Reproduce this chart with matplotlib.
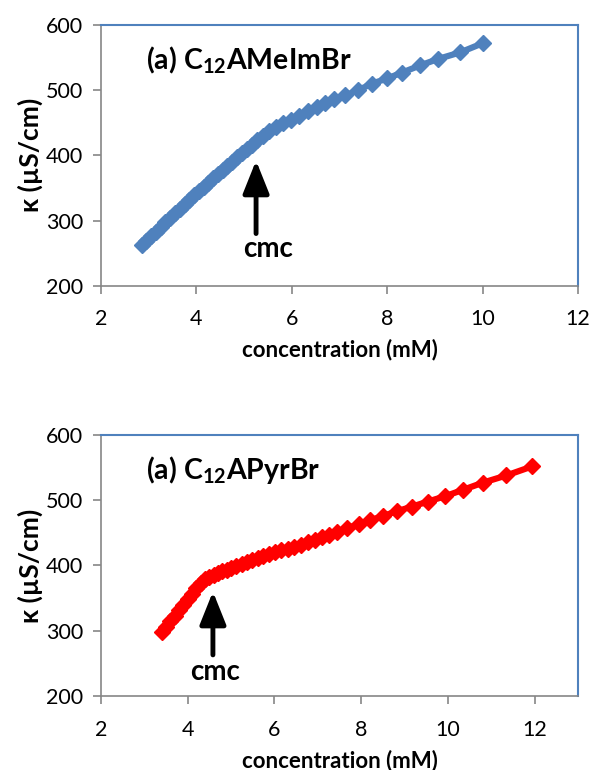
import matplotlib
matplotlib.use('Agg')
import matplotlib.pyplot as plt

plt.rcParams['font.family'] = ['Lato', 'DejaVu Sans']
plt.rcParams['mathtext.fontset'] = 'custom'
plt.rcParams['mathtext.rm'] = 'Lato'
plt.rcParams['mathtext.bf'] = 'Lato:bold'

# C12AMeImBr
conc_a = [2.85, 2.95, 3.05, 3.15, 3.25, 3.35, 3.45, 3.55, 3.65, 3.75, 3.85, 3.95,
          4.05, 4.15, 4.25, 4.35, 4.45, 4.55, 4.65, 4.75, 4.85, 4.95, 5.06, 5.17,
          5.28, 5.40, 5.53, 5.67, 5.82, 5.98, 6.15, 6.33, 6.52, 6.70, 6.88, 7.12,
          7.39, 7.68, 8.00, 8.31, 8.69, 9.07, 9.53, 10.0]
kappa_a = [262, 269, 276, 283, 290, 297, 304, 311, 318, 325, 332, 339,
           345, 352, 358, 365, 371, 378, 384, 390, 397, 403, 410, 416,
           423, 430, 437, 443, 449, 455, 461, 468, 474, 480, 486, 492,
           500, 510, 518, 527, 538, 548, 558, 572]

# C12APyrBr
conc_b = [3.4, 3.5, 3.6, 3.7, 3.8, 3.9, 4.0, 4.1, 4.2, 4.3, 4.4, 4.5, 4.6, 4.7,
          4.8, 4.9, 5.0, 5.12, 5.24, 5.36, 5.48, 5.61, 5.74, 5.87, 6.01, 6.15,
          6.30, 6.45, 6.61, 6.77, 6.93, 7.09, 7.25, 7.44, 7.67, 7.94, 8.20, 8.51,
          8.82, 9.16, 9.54, 9.93, 10.35, 10.81, 11.35, 11.95]
kappa_b = [298, 306, 315, 323, 332, 340, 348, 357, 365, 373, 379, 382, 385, 388,
           391, 393, 396, 399, 402, 405, 408, 411, 414, 417, 420, 423,
           426, 429, 432, 436, 439, 443, 447, 452, 457, 463, 469, 476,
           483, 490, 498, 506, 516, 527, 538, 552]

xticks = [2, 4, 6, 8, 10, 12]
yticks = [200, 300, 400, 500, 600]

BLUE = '#4F81BD'
RED = '#FF0000'
GREY = '#868686'

fig = plt.figure(figsize=(5.91, 7.70), dpi=100)
ax1 = fig.add_axes([0.171, 0.629, 0.807, 0.3385])
ax2 = fig.add_axes([0.171, 0.0961, 0.807, 0.339])


def style(ax, xmax):
    ax.set_xlim(2, xmax)
    ax.set_ylim(200, 600)
    ax.set_xticks(xticks)
    ax.set_yticks(yticks)
    for s in ['left', 'bottom']:
        ax.spines[s].set_color(GREY)
        ax.spines[s].set_linewidth(1.2)
    for s in ['top', 'right']:
        ax.spines[s].set_color(BLUE)
        ax.spines[s].set_linewidth(1.5)
    ax.tick_params(direction='out', length=6, width=1.2, color=GREY,
                   labelsize=15.5)
    ax.tick_params(axis='x', pad=11)
    ax.tick_params(axis='y', pad=7)
    ax.set_xlabel('concentration (mM)', fontsize=16, fontweight='bold', labelpad=7)
    ax.set_ylabel('κ (µS/cm)', fontsize=19, fontweight='bold', labelpad=2)


style(ax1, 12)
style(ax2, 13)

ax1.plot(conc_a, kappa_a, '-', color=BLUE, lw=4.5, marker='D', ms=8,
         mfc=BLUE, mec=BLUE)
ax2.plot(conc_b, kappa_b, '-', color=RED, lw=4.5, marker='D', ms=8,
         mfc=RED, mec=RED)

ax1.text(0.095, 0.865, r'(a) C$_{\mathbf{12}}$AMeImBr', transform=ax1.transAxes,
         fontsize=20.5, fontweight='bold', ha='left', va='center')
ax2.text(0.095, 0.865, r'(a) C$_{\mathbf{12}}$APyrBr', transform=ax2.transAxes,
         fontsize=20.5, fontweight='bold', ha='left', va='center')

arrow = dict(arrowstyle='-|>,head_width=0.4,head_length=1.0', lw=3.5, color='black',
             shrinkA=0, shrinkB=0, mutation_scale=20)
ax1.annotate('', xy=(5.25, 392), xytext=(5.25, 280), arrowprops=arrow)
ax1.text(5.5, 257, 'cmc', fontsize=20, fontweight='bold', ha='center', va='center')
ax2.annotate('', xy=(4.58, 360), xytext=(4.58, 263), arrowprops=arrow)
ax2.text(4.63, 237, 'cmc', fontsize=20, fontweight='bold', ha='center', va='center')

fig.savefig('out.png', dpi=100)
